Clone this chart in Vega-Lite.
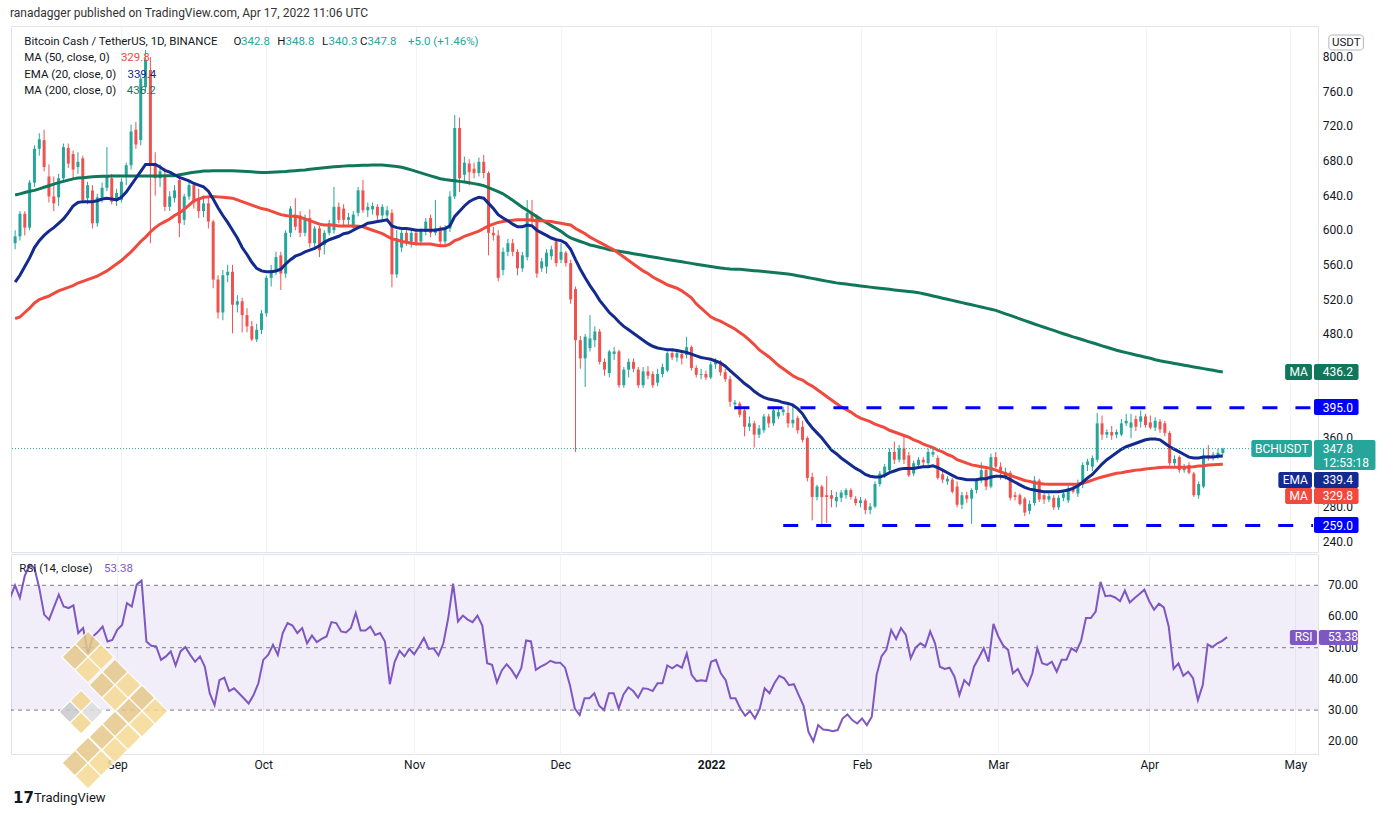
{
  "$schema": "https://vega.github.io/schema/vega-lite/v6.json",
  "background": "white",
  "padding": {"left": 10, "top": 7, "right": 0, "bottom": 0},
  "title": {
    "text": "ranadagger published on TradingView.com, Apr 17, 2022 11:06 UTC",
    "anchor": "start",
    "baseline": "top",
    "fontSize": 12,
    "fontWeight": "normal",
    "font": "Roboto",
    "color": "#333333",
    "offset": 5.5
  },
  "config": {
    "font": "Roboto",
    "view": {"stroke": "#e0e3eb", "strokeWidth": 1},
    "concat": {"spacing": 0},
    "axis": {
      "domain": false,
      "ticks": false,
      "tickSize": 0,
      "labelFont": "Roboto",
      "labelFontSize": 12,
      "labelColor": "#131722",
      "gridColor": "#f0f3fa",
      "gridWidth": 1
    },
    "text": {"font": "Roboto", "fontSize": 12, "align": "left", "baseline": "middle"},
    "point": {"shape": "diamond", "filled": true, "stroke": "white", "strokeWidth": 1.2, "opacity": 0.85}
  },
  "datasets": {
    "priceTicks": [
      {"v": 240}, {"v": 280}, {"v": 360}, {"v": 480}, {"v": 520}, {"v": 560}, {"v": 600},
      {"v": 640}, {"v": 680}, {"v": 720}, {"v": 760}, {"v": 800}
    ],
    "rsiTicks": [{"v": 20}, {"v": 30}, {"v": 40}, {"v": 50}, {"v": 60}, {"v": 70}],
    "bars": [
      {"date":"2021-08-10","open":585,"high":600,"low":578,"close":593,"ema20":540,"ma50":498,"ma200":640.6,"rsi":66},
      {"date":"2021-08-11","open":593,"high":622,"low":588,"close":619,"ema20":548,"ma50":500,"ma200":642,"rsi":70},
      {"date":"2021-08-12","open":619,"high":622,"low":594,"close":603,"ema20":558,"ma50":505,"ma200":643.5,"rsi":66},
      {"date":"2021-08-13","open":603,"high":658,"low":600,"close":655,"ema20":568,"ma50":510,"ma200":645,"rsi":73},
      {"date":"2021-08-14","open":655,"high":698,"low":650,"close":694,"ema20":580,"ma50":516,"ma200":646,"rsi":76.5},
      {"date":"2021-08-15","open":694,"high":712,"low":686,"close":705,"ema20":588,"ma50":520,"ma200":647.7,"rsi":75.5},
      {"date":"2021-08-16","open":704,"high":716,"low":668,"close":673,"ema20":594,"ma50":522,"ma200":649.6,"rsi":69},
      {"date":"2021-08-17","open":662,"high":676,"low":632,"close":639,"ema20":599,"ma50":524,"ma200":651.4,"rsi":60.6},
      {"date":"2021-08-18","open":639,"high":662,"low":622,"close":631,"ema20":603,"ma50":527,"ma200":653.3,"rsi":59},
      {"date":"2021-08-19","open":638,"high":665,"low":628,"close":660,"ema20":608,"ma50":530,"ma200":655,"rsi":63},
      {"date":"2021-08-20","open":660,"high":700,"low":655,"close":696,"ema20":613,"ma50":532,"ma200":656.4,"rsi":67},
      {"date":"2021-08-21","open":695,"high":700,"low":672,"close":677,"ema20":620,"ma50":534,"ma200":657.8,"rsi":63.2},
      {"date":"2021-08-22","open":688,"high":692,"low":660,"close":670,"ema20":628,"ma50":536,"ma200":659.3,"rsi":62.7},
      {"date":"2021-08-23","open":673,"high":690,"low":665,"close":679,"ema20":632,"ma50":539,"ma200":660.2,"rsi":63.6},
      {"date":"2021-08-24","open":683,"high":686,"low":631,"close":635,"ema20":633,"ma50":541,"ma200":660.7,"rsi":54.7},
      {"date":"2021-08-25","open":637,"high":656,"low":630,"close":652,"ema20":633,"ma50":543,"ma200":661.2,"rsi":56.3},
      {"date":"2021-08-26","open":646,"high":652,"low":602,"close":608,"ema20":633,"ma50":545,"ma200":661.7,"rsi":48.2},
      {"date":"2021-08-27","open":608,"high":642,"low":604,"close":638,"ema20":634,"ma50":547,"ma200":662.1,"rsi":53.6},
      {"date":"2021-08-28","open":638,"high":655,"low":632,"close":649,"ema20":636,"ma50":550,"ma200":662.2,"rsi":55},
      {"date":"2021-08-29","open":649,"high":696,"low":645,"close":662,"ema20":637,"ma50":553,"ma200":662.4,"rsi":56.8},
      {"date":"2021-08-30","open":660,"high":665,"low":630,"close":633,"ema20":636,"ma50":557,"ma200":662.5,"rsi":52},
      {"date":"2021-08-31","open":635,"high":648,"low":628,"close":643,"ema20":635,"ma50":561,"ma200":662.6,"rsi":52.5},
      {"date":"2021-09-01","open":635,"high":660,"low":632,"close":656,"ema20":638,"ma50":565,"ma200":662.6,"rsi":55.7},
      {"date":"2021-09-02","open":662,"high":678,"low":652,"close":675,"ema20":644,"ma50":570,"ma200":662.6,"rsi":57.3},
      {"date":"2021-09-03","open":675,"high":722,"low":670,"close":714,"ema20":652,"ma50":575,"ma200":662.6,"rsi":64.3},
      {"date":"2021-09-04","open":716,"high":725,"low":694,"close":699,"ema20":660,"ma50":581,"ma200":662.6,"rsi":63.2},
      {"date":"2021-09-05","open":704,"high":780,"low":698,"close":775,"ema20":668,"ma50":587,"ma200":662.6,"rsi":70.2},
      {"date":"2021-09-06","open":765,"high":808,"low":760,"close":797,"ema20":676,"ma50":592,"ma200":662.6,"rsi":71.5},
      {"date":"2021-09-07","open":785,"high":800,"low":585,"close":677,"ema20":676,"ma50":598,"ma200":662.6,"rsi":52},
      {"date":"2021-09-08","open":677,"high":690,"low":640,"close":660,"ema20":676,"ma50":603,"ma200":662.6,"rsi":50.6},
      {"date":"2021-09-09","open":660,"high":676,"low":650,"close":668,"ema20":673,"ma50":607,"ma200":662.7,"rsi":50.4},
      {"date":"2021-09-10","open":662,"high":672,"low":622,"close":627,"ema20":669,"ma50":610,"ma200":662.8,"rsi":46.1},
      {"date":"2021-09-11","open":627,"high":645,"low":622,"close":639,"ema20":667,"ma50":613,"ma200":662.9,"rsi":47.2},
      {"date":"2021-09-12","open":637,"high":652,"low":632,"close":646,"ema20":664,"ma50":617,"ma200":663,"rsi":48.8},
      {"date":"2021-09-13","open":658,"high":660,"low":592,"close":608,"ema20":661,"ma50":620,"ma200":664,"rsi":44.3},
      {"date":"2021-09-14","open":612,"high":642,"low":606,"close":639,"ema20":659,"ma50":624,"ma200":665,"rsi":48.8},
      {"date":"2021-09-15","open":639,"high":656,"low":635,"close":652,"ema20":657,"ma50":629,"ma200":666,"rsi":50.2},
      {"date":"2021-09-16","open":652,"high":655,"low":625,"close":632,"ema20":654,"ma50":634,"ma200":667,"rsi":47.7},
      {"date":"2021-09-17","open":637,"high":648,"low":614,"close":622,"ema20":652,"ma50":636,"ma200":667.6,"rsi":45.5},
      {"date":"2021-09-18","open":622,"high":640,"low":615,"close":631,"ema20":650,"ma50":638,"ma200":668.3,"rsi":47.2},
      {"date":"2021-09-19","open":631,"high":640,"low":602,"close":610,"ema20":645,"ma50":638.5,"ma200":668.5,"rsi":43.9},
      {"date":"2021-09-20","open":610,"high":612,"low":533,"close":543,"ema20":636,"ma50":639,"ma200":668.6,"rsi":35.4},
      {"date":"2021-09-21","open":543,"high":548,"low":498,"close":505,"ema20":626,"ma50":638.5,"ma200":668.6,"rsi":31.6},
      {"date":"2021-09-22","open":505,"high":554,"low":496,"close":548,"ema20":617,"ma50":638,"ma200":668.7,"rsi":39.6},
      {"date":"2021-09-23","open":548,"high":560,"low":540,"close":552,"ema20":609,"ma50":637.5,"ma200":668.7,"rsi":40.4},
      {"date":"2021-09-24","open":552,"high":560,"low":481,"close":514,"ema20":600,"ma50":637,"ma200":668.7,"rsi":36.1},
      {"date":"2021-09-25","open":514,"high":525,"low":505,"close":518,"ema20":591,"ma50":635,"ma200":668.5,"rsi":37},
      {"date":"2021-09-26","open":518,"high":522,"low":482,"close":502,"ema20":580,"ma50":633,"ma200":668.1,"rsi":35.4},
      {"date":"2021-09-27","open":502,"high":510,"low":482,"close":489,"ema20":572,"ma50":631,"ma200":667.8,"rsi":33.8},
      {"date":"2021-09-28","open":489,"high":495,"low":472,"close":474,"ema20":563,"ma50":629,"ma200":667.4,"rsi":32.1},
      {"date":"2021-09-29","open":474,"high":492,"low":471,"close":485,"ema20":556,"ma50":627,"ma200":667,"rsi":34.8},
      {"date":"2021-09-30","open":485,"high":508,"low":480,"close":504,"ema20":553,"ma50":625,"ma200":666.6,"rsi":38.6},
      {"date":"2021-10-01","open":504,"high":548,"low":500,"close":545,"ema20":552,"ma50":624,"ma200":666.6,"rsi":46.1},
      {"date":"2021-10-02","open":545,"high":560,"low":535,"close":554,"ema20":552,"ma50":622,"ma200":666.8,"rsi":47.7},
      {"date":"2021-10-03","open":554,"high":575,"low":548,"close":569,"ema20":553,"ma50":620,"ma200":667.1,"rsi":50.9},
      {"date":"2021-10-04","open":571,"high":575,"low":531,"close":550,"ema20":555,"ma50":618,"ma200":667.5,"rsi":47.7},
      {"date":"2021-10-05","open":550,"high":600,"low":545,"close":597,"ema20":561,"ma50":617,"ma200":667.8,"rsi":54.7},
      {"date":"2021-10-06","open":597,"high":628,"low":592,"close":625,"ema20":566,"ma50":616,"ma200":668.3,"rsi":57.9},
      {"date":"2021-10-07","open":618,"high":637,"low":600,"close":604,"ema20":570,"ma50":616,"ma200":668.7,"rsi":57.1},
      {"date":"2021-10-08","open":617,"high":622,"low":592,"close":597,"ema20":572,"ma50":615,"ma200":669.2,"rsi":54.7},
      {"date":"2021-10-09","open":597,"high":618,"low":593,"close":614,"ema20":575,"ma50":613,"ma200":669.6,"rsi":56.3},
      {"date":"2021-10-10","open":614,"high":624,"low":580,"close":585,"ema20":577,"ma50":611,"ma200":670.3,"rsi":51.4},
      {"date":"2021-10-11","open":585,"high":605,"low":580,"close":602,"ema20":579,"ma50":609,"ma200":671,"rsi":53.9},
      {"date":"2021-10-12","open":602,"high":605,"low":569,"close":577,"ema20":582,"ma50":607,"ma200":671.6,"rsi":51.8},
      {"date":"2021-10-13","open":583,"high":600,"low":572,"close":597,"ema20":586,"ma50":606,"ma200":672.2,"rsi":52.8},
      {"date":"2021-10-14","open":597,"high":612,"low":594,"close":608,"ema20":589,"ma50":606,"ma200":672.7,"rsi":53.6},
      {"date":"2021-10-15","open":600,"high":650,"low":596,"close":627,"ema20":591,"ma50":606,"ma200":673.2,"rsi":58.2},
      {"date":"2021-10-16","open":627,"high":632,"low":608,"close":612,"ema20":593,"ma50":605,"ma200":673.6,"rsi":57.9},
      {"date":"2021-10-17","open":625,"high":630,"low":605,"close":612,"ema20":596,"ma50":605,"ma200":674,"rsi":55.2},
      {"date":"2021-10-18","open":612,"high":620,"low":605,"close":615,"ema20":597,"ma50":605,"ma200":674.3,"rsi":54.9},
      {"date":"2021-10-19","open":603,"high":622,"low":600,"close":618,"ema20":600,"ma50":605,"ma200":674.5,"rsi":56.3},
      {"date":"2021-10-20","open":620,"high":650,"low":616,"close":646,"ema20":603,"ma50":604.5,"ma200":674.8,"rsi":61.1},
      {"date":"2021-10-21","open":646,"high":658,"low":620,"close":623,"ema20":605,"ma50":604,"ma200":675,"rsi":55.5},
      {"date":"2021-10-22","open":623,"high":632,"low":615,"close":627,"ema20":608,"ma50":602,"ma200":675.1,"rsi":55.5},
      {"date":"2021-10-23","open":624,"high":632,"low":618,"close":628,"ema20":609,"ma50":600,"ma200":675.2,"rsi":56.8},
      {"date":"2021-10-24","open":627,"high":630,"low":612,"close":617,"ema20":610,"ma50":598,"ma200":675.3,"rsi":54.1},
      {"date":"2021-10-25","open":617,"high":630,"low":612,"close":627,"ema20":611,"ma50":596,"ma200":675.3,"rsi":54.7},
      {"date":"2021-10-26","open":617,"high":628,"low":610,"close":623,"ema20":612,"ma50":593,"ma200":674.8,"rsi":52},
      {"date":"2021-10-27","open":620,"high":624,"low":534,"close":549,"ema20":605,"ma50":590,"ma200":674.2,"rsi":38.3},
      {"date":"2021-10-28","open":549,"high":600,"low":545,"close":590,"ema20":603,"ma50":589,"ma200":673.5,"rsi":45.5},
      {"date":"2021-10-29","open":580,"high":602,"low":575,"close":597,"ema20":602,"ma50":587,"ma200":672.7,"rsi":49},
      {"date":"2021-10-30","open":597,"high":600,"low":582,"close":585,"ema20":602,"ma50":586,"ma200":671.3,"rsi":47.2},
      {"date":"2021-10-31","open":585,"high":600,"low":580,"close":597,"ema20":601,"ma50":585,"ma200":669.7,"rsi":49.6},
      {"date":"2021-11-01","open":597,"high":602,"low":582,"close":586,"ema20":600,"ma50":584.5,"ma200":668,"rsi":47.9},
      {"date":"2021-11-02","open":587,"high":602,"low":583,"close":599,"ema20":600,"ma50":584,"ma200":666.2,"rsi":50.4},
      {"date":"2021-11-03","open":598,"high":614,"low":594,"close":610,"ema20":600,"ma50":584,"ma200":664.5,"rsi":53.1},
      {"date":"2021-11-04","open":614,"high":618,"low":592,"close":597,"ema20":600,"ma50":584,"ma200":662.8,"rsi":49.6},
      {"date":"2021-11-05","open":597,"high":635,"low":594,"close":602,"ema20":600,"ma50":583,"ma200":661.1,"rsi":49.8},
      {"date":"2021-11-06","open":600,"high":605,"low":582,"close":587,"ema20":601,"ma50":582,"ma200":659.4,"rsi":47.5},
      {"date":"2021-11-07","open":587,"high":606,"low":584,"close":602,"ema20":602,"ma50":582,"ma200":658.5,"rsi":51.4},
      {"date":"2021-11-08","open":602,"high":645,"low":598,"close":639,"ema20":605,"ma50":584,"ma200":657.8,"rsi":59.5},
      {"date":"2021-11-09","open":639,"high":733,"low":636,"close":718,"ema20":616,"ma50":588,"ma200":657.1,"rsi":70.5},
      {"date":"2021-11-10","open":718,"high":730,"low":644,"close":660,"ema20":622,"ma50":590,"ma200":656.4,"rsi":58.4},
      {"date":"2021-11-11","open":664,"high":685,"low":655,"close":678,"ema20":628,"ma50":593,"ma200":655.6,"rsi":60.3},
      {"date":"2021-11-12","open":677,"high":682,"low":652,"close":667,"ema20":633,"ma50":595,"ma200":654.7,"rsi":59},
      {"date":"2021-11-13","open":671,"high":678,"low":660,"close":666,"ema20":636,"ma50":597,"ma200":653.8,"rsi":58.2},
      {"date":"2021-11-14","open":666,"high":684,"low":662,"close":679,"ema20":638,"ma50":599,"ma200":652.8,"rsi":60.3},
      {"date":"2021-11-15","open":679,"high":687,"low":660,"close":666,"ema20":637,"ma50":602,"ma200":651.5,"rsi":57.1},
      {"date":"2021-11-16","open":666,"high":668,"low":571,"close":597,"ema20":631,"ma50":605,"ma200":649.2,"rsi":45},
      {"date":"2021-11-17","open":597,"high":604,"low":588,"close":594,"ema20":625,"ma50":607,"ma200":646.9,"rsi":44.5},
      {"date":"2021-11-18","open":594,"high":600,"low":541,"close":545,"ema20":618,"ma50":609,"ma200":644.5,"rsi":38.9},
      {"date":"2021-11-19","open":554,"high":580,"low":548,"close":575,"ema20":614,"ma50":610,"ma200":642,"rsi":42.7},
      {"date":"2021-11-20","open":575,"high":590,"low":570,"close":585,"ema20":611,"ma50":611,"ma200":638.3,"rsi":44.7},
      {"date":"2021-11-21","open":585,"high":590,"low":570,"close":575,"ema20":607,"ma50":611.5,"ma200":634.5,"rsi":42.9},
      {"date":"2021-11-22","open":575,"high":578,"low":548,"close":556,"ema20":604,"ma50":612,"ma200":630.6,"rsi":40.4},
      {"date":"2021-11-23","open":556,"high":575,"low":552,"close":571,"ema20":604,"ma50":612,"ma200":626.6,"rsi":43.4},
      {"date":"2021-11-24","open":569,"high":635,"low":565,"close":620,"ema20":606,"ma50":612,"ma200":623,"rsi":52.3},
      {"date":"2021-11-25","open":620,"high":635,"low":605,"close":610,"ema20":605,"ma50":611.5,"ma200":619.3,"rsi":52},
      {"date":"2021-11-26","open":615,"high":618,"low":545,"close":550,"ema20":600,"ma50":611,"ma200":615.7,"rsi":42.9},
      {"date":"2021-11-27","open":556,"high":568,"low":552,"close":564,"ema20":597,"ma50":611,"ma200":612,"rsi":43.9},
      {"date":"2021-11-28","open":558,"high":578,"low":550,"close":574,"ema20":594,"ma50":610.5,"ma200":608.6,"rsi":44.7},
      {"date":"2021-11-29","open":570,"high":582,"low":566,"close":578,"ema20":591,"ma50":610,"ma200":605.3,"rsi":45.8},
      {"date":"2021-11-30","open":587,"high":590,"low":558,"close":562,"ema20":589,"ma50":609,"ma200":602,"rsi":45.2},
      {"date":"2021-12-01","open":566,"high":585,"low":562,"close":575,"ema20":588,"ma50":608,"ma200":598.7,"rsi":45.2},
      {"date":"2021-12-02","open":574,"high":576,"low":558,"close":562,"ema20":585,"ma50":607,"ma200":594.5,"rsi":43.6},
      {"date":"2021-12-03","open":562,"high":566,"low":515,"close":520,"ema20":578,"ma50":606,"ma200":591,"rsi":38},
      {"date":"2021-12-04","open":532,"high":535,"low":344,"close":473,"ema20":566,"ma50":602,"ma200":589,"rsi":30.5},
      {"date":"2021-12-05","open":473,"high":478,"low":440,"close":452,"ema20":555,"ma50":599,"ma200":587,"rsi":28.4},
      {"date":"2021-12-06","open":452,"high":480,"low":419,"close":477,"ema20":545,"ma50":596,"ma200":585,"rsi":33.8},
      {"date":"2021-12-07","open":464,"high":502,"low":460,"close":475,"ema20":536,"ma50":592,"ma200":583,"rsi":33.8},
      {"date":"2021-12-08","open":473,"high":489,"low":465,"close":483,"ema20":528,"ma50":589,"ma200":581.8,"rsi":35.4},
      {"date":"2021-12-09","open":483,"high":486,"low":445,"close":448,"ema20":519,"ma50":586,"ma200":580.4,"rsi":31.4},
      {"date":"2021-12-10","open":448,"high":452,"low":432,"close":439,"ema20":512,"ma50":583,"ma200":579,"rsi":30},
      {"date":"2021-12-11","open":435,"high":462,"low":430,"close":460,"ema20":505,"ma50":580,"ma200":577.5,"rsi":35.4},
      {"date":"2021-12-12","open":457,"high":465,"low":450,"close":460,"ema20":500,"ma50":577,"ma200":576.6,"rsi":35.4},
      {"date":"2021-12-13","open":460,"high":462,"low":418,"close":421,"ema20":494,"ma50":573,"ma200":575.7,"rsi":30.5},
      {"date":"2021-12-14","open":421,"high":442,"low":418,"close":439,"ema20":489,"ma50":569,"ma200":574.8,"rsi":35},
      {"date":"2021-12-15","open":439,"high":452,"low":430,"close":448,"ema20":485,"ma50":565,"ma200":573.9,"rsi":37.3},
      {"date":"2021-12-16","open":448,"high":452,"low":436,"close":440,"ema20":481,"ma50":561,"ma200":572.9,"rsi":36.1},
      {"date":"2021-12-17","open":439,"high":442,"low":418,"close":421,"ema20":477,"ma50":557,"ma200":572,"rsi":34},
      {"date":"2021-12-18","open":421,"high":442,"low":418,"close":437,"ema20":473,"ma50":553,"ma200":571,"rsi":37},
      {"date":"2021-12-19","open":437,"high":443,"low":428,"close":432,"ema20":469,"ma50":550,"ma200":570,"rsi":36.8},
      {"date":"2021-12-20","open":434,"high":437,"low":418,"close":421,"ema20":466,"ma50":546,"ma200":569,"rsi":36.1},
      {"date":"2021-12-21","open":424,"high":440,"low":420,"close":434,"ema20":464,"ma50":543,"ma200":568.1,"rsi":38.6},
      {"date":"2021-12-22","open":434,"high":446,"low":430,"close":442,"ema20":463,"ma50":540,"ma200":567.2,"rsi":38.6},
      {"date":"2021-12-23","open":438,"high":460,"low":436,"close":458,"ema20":462,"ma50":537,"ma200":566.3,"rsi":44.3},
      {"date":"2021-12-24","open":458,"high":462,"low":450,"close":453,"ema20":462,"ma50":535,"ma200":565.3,"rsi":43.4},
      {"date":"2021-12-25","open":453,"high":462,"low":448,"close":458,"ema20":461,"ma50":533,"ma200":564.4,"rsi":44.5},
      {"date":"2021-12-26","open":457,"high":460,"low":445,"close":452,"ema20":460,"ma50":530,"ma200":563.5,"rsi":43.6},
      {"date":"2021-12-27","open":456,"high":477,"low":452,"close":465,"ema20":459,"ma50":526,"ma200":562.6,"rsi":48.2},
      {"date":"2021-12-28","open":465,"high":467,"low":438,"close":441,"ema20":457,"ma50":522,"ma200":561.7,"rsi":41.3},
      {"date":"2021-12-29","open":441,"high":444,"low":430,"close":433,"ema20":455,"ma50":515,"ma200":560.8,"rsi":39.3},
      {"date":"2021-12-30","open":433,"high":440,"low":428,"close":434,"ema20":453,"ma50":510,"ma200":559.8,"rsi":39.6},
      {"date":"2021-12-31","open":434,"high":438,"low":427,"close":430,"ema20":452,"ma50":505,"ma200":558.9,"rsi":39.3},
      {"date":"2022-01-01","open":430,"high":448,"low":428,"close":445,"ema20":451,"ma50":500,"ma200":558,"rsi":45.5},
      {"date":"2022-01-02","open":445,"high":452,"low":440,"close":448,"ema20":449,"ma50":497,"ma200":557.2,"rsi":46.1},
      {"date":"2022-01-03","open":448,"high":450,"low":432,"close":436,"ema20":447,"ma50":495,"ma200":556.5,"rsi":41.8},
      {"date":"2022-01-04","open":436,"high":440,"low":425,"close":428,"ema20":443,"ma50":492,"ma200":555.8,"rsi":39.6},
      {"date":"2022-01-05","open":428,"high":432,"low":396,"close":402,"ema20":438,"ma50":489,"ma200":555.3,"rsi":33.8},
      {"date":"2022-01-06","open":399,"high":404,"low":393,"close":401,"ema20":433,"ma50":486,"ma200":555,"rsi":33.8},
      {"date":"2022-01-07","open":400,"high":402,"low":384,"close":387,"ema20":428,"ma50":482,"ma200":554.9,"rsi":30.5},
      {"date":"2022-01-08","open":392,"high":395,"low":362,"close":373,"ema20":423,"ma50":478,"ma200":554.4,"rsi":28.2},
      {"date":"2022-01-09","open":373,"high":385,"low":368,"close":377,"ema20":419,"ma50":473,"ma200":553.9,"rsi":29.7},
      {"date":"2022-01-10","open":377,"high":380,"low":349,"close":364,"ema20":414,"ma50":468,"ma200":553.3,"rsi":27.3},
      {"date":"2022-01-11","open":364,"high":375,"low":360,"close":371,"ema20":410,"ma50":462,"ma200":552.8,"rsi":30.5},
      {"date":"2022-01-12","open":369,"high":388,"low":366,"close":385,"ema20":407,"ma50":458,"ma200":552.3,"rsi":37},
      {"date":"2022-01-13","open":385,"high":388,"low":372,"close":377,"ema20":405,"ma50":454,"ma200":551.7,"rsi":35.4},
      {"date":"2022-01-14","open":377,"high":395,"low":374,"close":392,"ema20":404,"ma50":449,"ma200":551.2,"rsi":38.6},
      {"date":"2022-01-15","open":385,"high":394,"low":382,"close":390,"ema20":403,"ma50":444,"ma200":550.6,"rsi":41},
      {"date":"2022-01-16","open":390,"high":396,"low":386,"close":393,"ema20":401,"ma50":440,"ma200":550,"rsi":40.2},
      {"date":"2022-01-17","open":389,"high":398,"low":372,"close":377,"ema20":400,"ma50":436,"ma200":549.5,"rsi":38},
      {"date":"2022-01-18","open":377,"high":400,"low":372,"close":381,"ema20":398,"ma50":432,"ma200":548.6,"rsi":38.3},
      {"date":"2022-01-19","open":383,"high":386,"low":365,"close":369,"ema20":394,"ma50":429,"ma200":547.5,"rsi":34.8},
      {"date":"2022-01-20","open":373,"high":380,"low":355,"close":358,"ema20":388,"ma50":427,"ma200":546.5,"rsi":31.4},
      {"date":"2022-01-21","open":360,"high":362,"low":310,"close":314,"ema20":379,"ma50":423,"ma200":545.4,"rsi":23},
      {"date":"2022-01-22","open":315,"high":320,"low":265,"close":292,"ema20":372,"ma50":420,"ma200":544.4,"rsi":20},
      {"date":"2022-01-23","open":292,"high":306,"low":288,"close":304,"ema20":366,"ma50":416,"ma200":543.3,"rsi":25.2},
      {"date":"2022-01-24","open":304,"high":306,"low":259,"close":292,"ema20":360,"ma50":412,"ma200":542.3,"rsi":23.8},
      {"date":"2022-01-25","open":294,"high":316,"low":262,"close":292,"ema20":353,"ma50":408,"ma200":541.2,"rsi":23.6},
      {"date":"2022-01-26","open":294,"high":300,"low":280,"close":290,"ema20":346,"ma50":404,"ma200":540.2,"rsi":23.2},
      {"date":"2022-01-27","open":287,"high":298,"low":280,"close":292,"ema20":342,"ma50":400,"ma200":539.2,"rsi":23.6},
      {"date":"2022-01-28","open":291,"high":300,"low":286,"close":297,"ema20":337,"ma50":396,"ma200":538.5,"rsi":27.3},
      {"date":"2022-01-29","open":294,"high":302,"low":290,"close":300,"ema20":333,"ma50":393,"ma200":537.8,"rsi":28.6},
      {"date":"2022-01-30","open":300,"high":302,"low":289,"close":292,"ema20":329,"ma50":390,"ma200":537.1,"rsi":26.8},
      {"date":"2022-01-31","open":290,"high":293,"low":282,"close":285,"ema20":325,"ma50":386,"ma200":536.4,"rsi":25.7},
      {"date":"2022-02-01","open":285,"high":292,"low":280,"close":288,"ema20":322,"ma50":383,"ma200":535.7,"rsi":27.3},
      {"date":"2022-02-02","open":288,"high":290,"low":272,"close":277,"ema20":318,"ma50":381,"ma200":535,"rsi":25.2},
      {"date":"2022-02-03","open":277,"high":285,"low":272,"close":281,"ema20":316,"ma50":379,"ma200":534.3,"rsi":27.9},
      {"date":"2022-02-04","open":281,"high":310,"low":279,"close":307,"ema20":315,"ma50":376,"ma200":533.6,"rsi":41.3},
      {"date":"2022-02-05","open":307,"high":322,"low":304,"close":319,"ema20":315,"ma50":374,"ma200":533,"rsi":47.2},
      {"date":"2022-02-06","open":317,"high":330,"low":314,"close":327,"ema20":317,"ma50":372,"ma200":532.4,"rsi":49.3},
      {"date":"2022-02-07","open":323,"high":348,"low":320,"close":344,"ema20":320,"ma50":369,"ma200":531.8,"rsi":55.7},
      {"date":"2022-02-08","open":344,"high":356,"low":330,"close":335,"ema20":322,"ma50":367,"ma200":531.1,"rsi":52.8},
      {"date":"2022-02-09","open":335,"high":352,"low":332,"close":348,"ema20":324,"ma50":365,"ma200":530.5,"rsi":56.3},
      {"date":"2022-02-10","open":348,"high":364,"low":330,"close":335,"ema20":325,"ma50":363,"ma200":529.9,"rsi":54.1},
      {"date":"2022-02-11","open":340,"high":344,"low":315,"close":317,"ema20":325,"ma50":361,"ma200":529.3,"rsi":46.6},
      {"date":"2022-02-12","open":319,"high":334,"low":316,"close":331,"ema20":325,"ma50":358,"ma200":528.6,"rsi":50},
      {"date":"2022-02-13","open":329,"high":338,"low":326,"close":335,"ema20":326,"ma50":356,"ma200":527.9,"rsi":51.4},
      {"date":"2022-02-14","open":335,"high":338,"low":328,"close":332,"ema20":327,"ma50":353,"ma200":526.6,"rsi":50.4},
      {"date":"2022-02-15","open":331,"high":348,"low":328,"close":344,"ema20":327,"ma50":351,"ma200":525.4,"rsi":55.2},
      {"date":"2022-02-16","open":341,"high":350,"low":338,"close":344,"ema20":328,"ma50":349,"ma200":524.1,"rsi":51.4},
      {"date":"2022-02-17","open":337,"high":340,"low":312,"close":314,"ema20":326,"ma50":346,"ma200":522.8,"rsi":43.9},
      {"date":"2022-02-18","open":318,"high":322,"low":308,"close":312,"ema20":323,"ma50":344,"ma200":521.5,"rsi":43.2},
      {"date":"2022-02-19","open":310,"high":316,"low":306,"close":313,"ema20":320,"ma50":341,"ma200":520.3,"rsi":43.6},
      {"date":"2022-02-20","open":312,"high":314,"low":296,"close":298,"ema20":317,"ma50":339,"ma200":519,"rsi":40.7},
      {"date":"2022-02-21","open":304,"high":310,"low":280,"close":283,"ema20":314,"ma50":335,"ma200":517.7,"rsi":34.8},
      {"date":"2022-02-22","open":283,"high":298,"low":278,"close":294,"ema20":313,"ma50":333,"ma200":516.4,"rsi":39.6},
      {"date":"2022-02-23","open":294,"high":298,"low":285,"close":290,"ema20":312,"ma50":331,"ma200":515.1,"rsi":38},
      {"date":"2022-02-24","open":290,"high":302,"low":261,"close":300,"ema20":312,"ma50":329,"ma200":513.9,"rsi":43.9},
      {"date":"2022-02-25","open":300,"high":314,"low":296,"close":312,"ema20":312,"ma50":328,"ma200":512.6,"rsi":46.8},
      {"date":"2022-02-26","open":311,"high":332,"low":308,"close":323,"ema20":313,"ma50":327,"ma200":511.3,"rsi":49.8},
      {"date":"2022-02-27","open":323,"high":326,"low":300,"close":304,"ema20":313,"ma50":326,"ma200":510,"rsi":45.5},
      {"date":"2022-02-28","open":304,"high":342,"low":302,"close":338,"ema20":315,"ma50":325,"ma200":508.7,"rsi":57.6},
      {"date":"2022-03-01","open":338,"high":344,"low":325,"close":327,"ema20":316,"ma50":323,"ma200":507.4,"rsi":53.6},
      {"date":"2022-03-02","open":327,"high":332,"low":312,"close":321,"ema20":316,"ma50":321,"ma200":505.5,"rsi":50.7},
      {"date":"2022-03-03","open":316,"high":326,"low":312,"close":321,"ema20":315,"ma50":319,"ma200":503.5,"rsi":49.3},
      {"date":"2022-03-04","open":320,"high":322,"low":288,"close":291,"ema20":312,"ma50":317,"ma200":501.6,"rsi":41.8},
      {"date":"2022-03-05","open":294,"high":298,"low":288,"close":292,"ema20":309,"ma50":315,"ma200":499.6,"rsi":43.2},
      {"date":"2022-03-06","open":294,"high":296,"low":282,"close":284,"ema20":306,"ma50":313,"ma200":497.6,"rsi":40},
      {"date":"2022-03-07","open":290,"high":292,"low":270,"close":274,"ema20":303,"ma50":311,"ma200":495.7,"rsi":37.8},
      {"date":"2022-03-08","open":276,"high":288,"low":272,"close":284,"ema20":301,"ma50":310,"ma200":493.7,"rsi":41.8},
      {"date":"2022-03-09","open":285,"high":316,"low":282,"close":311,"ema20":300,"ma50":308.5,"ma200":491.7,"rsi":49.8},
      {"date":"2022-03-10","open":311,"high":313,"low":286,"close":289,"ema20":299,"ma50":307.5,"ma200":489.9,"rsi":45},
      {"date":"2022-03-11","open":294,"high":296,"low":284,"close":289,"ema20":298,"ma50":307,"ma200":488,"rsi":44.5},
      {"date":"2022-03-12","open":289,"high":296,"low":286,"close":293,"ema20":298,"ma50":306.8,"ma200":486.1,"rsi":45.5},
      {"date":"2022-03-13","open":291,"high":294,"low":277,"close":280,"ema20":298,"ma50":306.6,"ma200":484.3,"rsi":42.3},
      {"date":"2022-03-14","open":280,"high":294,"low":277,"close":291,"ema20":298,"ma50":306.6,"ma200":482.4,"rsi":46.1},
      {"date":"2022-03-15","open":291,"high":298,"low":287,"close":296,"ema20":299,"ma50":306.6,"ma200":480.5,"rsi":46.1},
      {"date":"2022-03-16","open":288,"high":305,"low":285,"close":302,"ema20":300,"ma50":306.7,"ma200":478.7,"rsi":49.8},
      {"date":"2022-03-17","open":302,"high":305,"low":296,"close":298,"ema20":302,"ma50":306.8,"ma200":476.8,"rsi":48.8},
      {"date":"2022-03-18","open":296,"high":312,"low":292,"close":308,"ema20":305,"ma50":307,"ma200":475.2,"rsi":52.2},
      {"date":"2022-03-19","open":306,"high":332,"low":302,"close":329,"ema20":309,"ma50":308,"ma200":473.5,"rsi":59.5},
      {"date":"2022-03-20","open":329,"high":336,"low":322,"close":333,"ema20":314,"ma50":309.6,"ma200":471.7,"rsi":59.5},
      {"date":"2022-03-21","open":327,"high":340,"low":322,"close":337,"ema20":318,"ma50":311.5,"ma200":470,"rsi":61.6},
      {"date":"2022-03-22","open":335,"high":389,"low":332,"close":377,"ema20":324,"ma50":313.5,"ma200":468.3,"rsi":71.1},
      {"date":"2022-03-23","open":377,"high":386,"low":358,"close":364,"ema20":330,"ma50":315,"ma200":466.5,"rsi":66.5},
      {"date":"2022-03-24","open":364,"high":370,"low":360,"close":367,"ema20":335,"ma50":316.5,"ma200":464.8,"rsi":66.7},
      {"date":"2022-03-25","open":367,"high":374,"low":358,"close":363,"ema20":339,"ma50":318,"ma200":463.1,"rsi":66.1},
      {"date":"2022-03-26","open":364,"high":370,"low":360,"close":367,"ema20":343,"ma50":319.3,"ma200":461.4,"rsi":64.9},
      {"date":"2022-03-27","open":364,"high":382,"low":362,"close":377,"ema20":347,"ma50":320,"ma200":460,"rsi":68.3},
      {"date":"2022-03-28","open":377,"high":388,"low":374,"close":380,"ema20":350,"ma50":321,"ma200":458.7,"rsi":64.5},
      {"date":"2022-03-29","open":372,"high":388,"low":360,"close":378,"ema20":352,"ma50":322,"ma200":457.4,"rsi":65.9},
      {"date":"2022-03-30","open":382,"high":386,"low":368,"close":373,"ema20":354,"ma50":323,"ma200":456,"rsi":67.2},
      {"date":"2022-03-31","open":379,"high":392,"low":372,"close":385,"ema20":356,"ma50":323.5,"ma200":454.7,"rsi":68.6},
      {"date":"2022-04-01","open":385,"high":388,"low":372,"close":375,"ema20":358,"ma50":324.2,"ma200":453.4,"rsi":64.9},
      {"date":"2022-04-02","open":378,"high":386,"low":370,"close":372,"ema20":359,"ma50":325,"ma200":452.1,"rsi":62.2},
      {"date":"2022-04-03","open":372,"high":384,"low":368,"close":380,"ema20":359,"ma50":325.4,"ma200":450.5,"rsi":64.1},
      {"date":"2022-04-04","open":379,"high":382,"low":366,"close":370,"ema20":358,"ma50":326,"ma200":449.2,"rsi":62.9},
      {"date":"2022-04-05","open":377,"high":380,"low":362,"close":366,"ema20":354,"ma50":326.2,"ma200":448.2,"rsi":56.8},
      {"date":"2022-04-06","open":366,"high":368,"low":328,"close":331,"ema20":350,"ma50":326.2,"ma200":447.2,"rsi":43.2},
      {"date":"2022-04-07","open":331,"high":340,"low":328,"close":336,"ema20":347,"ma50":326.2,"ma200":446.2,"rsi":45},
      {"date":"2022-04-08","open":338,"high":340,"low":320,"close":323,"ema20":344,"ma50":326.2,"ma200":445.2,"rsi":41},
      {"date":"2022-04-09","open":323,"high":330,"low":320,"close":327,"ema20":341,"ma50":326.2,"ma200":444.1,"rsi":42.3},
      {"date":"2022-04-10","open":329,"high":332,"low":318,"close":320,"ema20":338,"ma50":326.5,"ma200":443.1,"rsi":40.2},
      {"date":"2022-04-11","open":319,"high":321,"low":292,"close":294,"ema20":337,"ma50":327,"ma200":442.1,"rsi":33.2},
      {"date":"2022-04-12","open":294,"high":310,"low":290,"close":307,"ema20":337,"ma50":327.7,"ma200":441.2,"rsi":38},
      {"date":"2022-04-13","open":304,"high":348,"low":302,"close":340,"ema20":338,"ma50":328,"ma200":440.2,"rsi":51.1},
      {"date":"2022-04-14","open":340,"high":352,"low":334,"close":338,"ema20":338,"ma50":328.9,"ma200":439.2,"rsi":50.2},
      {"date":"2022-04-15","open":338,"high":344,"low":334,"close":341,"ema20":338,"ma50":329.2,"ma200":438.2,"rsi":51.4},
      {"date":"2022-04-16","open":340,"high":348,"low":336,"close":343,"ema20":339,"ma50":329.5,"ma200":437.2,"rsi":52.2},
      {"date":"2022-04-17","open":342.8,"high":348.8,"low":340.3,"close":347.8,"ema20":339.4,"ma50":329.8,"ma200":436.2,"rsi":53.38}
    ]
  },
  "vconcat": [
    {
      "width": 1307,
      "height": 526,
      "layer": [
        {
          "data": {"name": "bars"},
          "encoding": {
            "x": {
              "field": "date", "type": "temporal", "title": null,
              "scale": {"type": "utc", "domain": [
                {"year": 2021, "month": 8, "date": 10, "hours": 4, "minutes": 19, "utc": true},
                {"year": 2022, "month": 5, "date": 5, "hours": 16, "minutes": 5, "utc": true}
              ]},
              "axis": {
                "labels": false, "grid": true, "domain": false, "ticks": false,
                "minExtent": 0, "maxExtent": 0, "offset": 0,
                "values": [
                  {"year": 2021, "month": 9, "date": 1, "utc": true},
                  {"year": 2021, "month": 10, "date": 1, "utc": true},
                  {"year": 2021, "month": 11, "date": 1, "utc": true},
                  {"year": 2021, "month": 12, "date": 1, "utc": true},
                  {"year": 2022, "month": 1, "date": 1, "utc": true},
                  {"year": 2022, "month": 2, "date": 1, "utc": true},
                  {"year": 2022, "month": 3, "date": 1, "utc": true},
                  {"year": 2022, "month": 4, "date": 1, "utc": true},
                  {"year": 2022, "month": 5, "date": 1, "utc": true}
                ]
              }
            }
          },
          "layer": [
            {
              "mark": {"type": "rule", "strokeWidth": 1, "clip": true},
              "encoding": {
                "y": {
                  "field": "low", "type": "quantitative", "title": null,
                  "scale": {"domain": [228.45, 835.8], "nice": false, "zero": false},
                  "axis": {
                    "orient": "right", "grid": true, "labels": false,
                    "values": [240, 280, 320, 360, 400, 440, 480, 520, 560, 600, 640, 680, 720, 760, 800]
                  }
                },
                "y2": {"field": "high"},
                "color": {"condition": {"test": "datum.close >= datum.open", "value": "#26a69a"}, "value": "#ef5350"}
              }
            },
            {
              "mark": {"type": "bar", "size": 3, "clip": true},
              "encoding": {
                "y": {"field": "open", "type": "quantitative", "title": null},
                "y2": {"field": "close"},
                "color": {"condition": {"test": "datum.close >= datum.open", "value": "#26a69a"}, "value": "#ef5350"}
              }
            },
            {
              "mark": {"type": "line", "color": "#10775b", "strokeWidth": 3, "clip": true},
              "encoding": {"y": {"field": "ma200", "type": "quantitative", "title": null}}
            },
            {
              "mark": {"type": "line", "color": "#f04a3e", "strokeWidth": 3, "clip": true},
              "encoding": {"y": {"field": "ma50", "type": "quantitative", "title": null}}
            },
            {
              "mark": {"type": "line", "color": "#132b8f", "strokeWidth": 3, "clip": true},
              "encoding": {"y": {"field": "ema20", "type": "quantitative", "title": null}}
            }
          ]
        },
        {
          "data": {"name": "priceTicks"},
          "mark": {"type": "text", "color": "#131722"},
          "encoding": {
            "x": {"datum": {"year": 2022, "month": 5, "date": 7, "hours": 16, "minutes": 48, "utc": true}},
            "y": {"field": "v", "type": "quantitative", "title": null, "axis": null},
            "text": {"field": "v", "type": "quantitative", "format": ".1f"}
          }
        },
        {
          "data": {"values": [{}]},
          "layer": [
            {
              "mark": {"type": "rule", "color": "#26a69a", "strokeWidth": 1, "strokeDash": [1, 2]},
              "encoding": {"y": {"datum": 347.8}}
            },
            {
              "mark": {"type": "rule", "color": "#0000ff", "strokeWidth": 3, "strokeDash": [15, 18]},
              "encoding": {
                "x": {"datum": {"year": 2022, "month": 1, "date": 5, "hours": 21, "minutes": 36, "utc": true}},
                "x2": {"datum": {"year": 2022, "month": 5, "date": 5, "hours": 16, "minutes": 5, "utc": true}},
                "y": {"datum": 395}
              }
            },
            {
              "mark": {"type": "rule", "color": "#0000ff", "strokeWidth": 3, "strokeDash": [15, 18]},
              "encoding": {
                "x": {"datum": {"year": 2022, "month": 1, "date": 16, "utc": true}},
                "x2": {"datum": {"year": 2022, "month": 5, "date": 5, "hours": 16, "minutes": 5, "utc": true}},
                "y": {"datum": 259}
              }
            },
            {
              "mark": {"type": "rect", "fill": "white", "stroke": "#b2b5be", "strokeWidth": 1, "cornerRadius": 3},
              "encoding": {
                "x": {"datum": {"year": 2022, "month": 5, "date": 8, "hours": 22, "minutes": 48, "utc": true}},
                "x2": {"datum": {"year": 2022, "month": 5, "date": 16, "hours": 2, "minutes": 24, "utc": true}},
                "y": {"datum": 825.4}, "y2": {"datum": 808.1}
              }
            },
            {
              "mark": {"type": "text", "align": "center", "color": "#131722", "fontSize": 11.5},
              "encoding": {
                "x": {"datum": {"year": 2022, "month": 5, "date": 12, "hours": 13, "minutes": 12, "utc": true}},
                "y": {"datum": 816.7},
                "text": {"value": "USDT"}
              }
            },
            {
              "mark": {"type": "rect", "color": "#10775b", "cornerRadius": 2},
              "encoding": {
                "x": {"datum": {"year": 2022, "month": 4, "date": 29, "hours": 21, "minutes": 36, "utc": true}},
                "x2": {"datum": {"year": 2022, "month": 5, "date": 5, "hours": 11, "utc": true}},
                "y": {"datum": 445.5}, "y2": {"datum": 427.0}
              }
            },
            {
              "mark": {"type": "rect", "color": "#10775b", "cornerRadius": 2},
              "encoding": {
                "x": {"datum": {"year": 2022, "month": 5, "date": 5, "hours": 21, "utc": true}},
                "x2": {"datum": {"year": 2022, "month": 5, "date": 15, "hours": 2, "minutes": 24, "utc": true}},
                "y": {"datum": 445.5}, "y2": {"datum": 427.0}
              }
            },
            {
              "mark": {"type": "text", "align": "center", "color": "white"},
              "encoding": {
                "x": {"datum": {"year": 2022, "month": 5, "date": 2, "hours": 16, "minutes": 48, "utc": true}},
                "y": {"datum": 436.2},
                "text": {"value": "MA"}
              }
            },
            {
              "mark": {"type": "text", "color": "white"},
              "encoding": {
                "x": {"datum": {"year": 2022, "month": 5, "date": 7, "hours": 16, "minutes": 48, "utc": true}},
                "y": {"datum": 436.2},
                "text": {"value": "436.2"}
              }
            },
            {
              "mark": {"type": "rect", "color": "#0000ff", "cornerRadius": 2},
              "encoding": {
                "x": {"datum": {"year": 2022, "month": 5, "date": 5, "hours": 21, "utc": true}},
                "x2": {"datum": {"year": 2022, "month": 5, "date": 15, "hours": 2, "minutes": 24, "utc": true}},
                "y": {"datum": 405.1}, "y2": {"datum": 386.6}
              }
            },
            {
              "mark": {"type": "text", "color": "white"},
              "encoding": {
                "x": {"datum": {"year": 2022, "month": 5, "date": 7, "hours": 16, "minutes": 48, "utc": true}},
                "y": {"datum": 395},
                "text": {"value": "395.0"}
              }
            },
            {
              "mark": {"type": "rect", "color": "#26a69a", "cornerRadius": 2},
              "encoding": {
                "x": {"datum": {"year": 2022, "month": 4, "date": 22, "hours": 21, "minutes": 36, "utc": true}},
                "x2": {"datum": {"year": 2022, "month": 5, "date": 5, "hours": 11, "utc": true}},
                "y": {"datum": 357.8}, "y2": {"datum": 338.1}
              }
            },
            {
              "mark": {"type": "rect", "color": "#26a69a", "cornerRadius": 2},
              "encoding": {
                "x": {"datum": {"year": 2022, "month": 5, "date": 5, "hours": 21, "utc": true}},
                "x2": {"datum": {"year": 2022, "month": 5, "date": 18, "hours": 14, "minutes": 24, "utc": true}},
                "y": {"datum": 357.8}, "y2": {"datum": 323.1}
              }
            },
            {
              "mark": {"type": "text", "align": "center", "color": "white"},
              "encoding": {
                "x": {"datum": {"year": 2022, "month": 4, "date": 29, "hours": 4, "minutes": 48, "utc": true}},
                "y": {"datum": 347.9},
                "text": {"value": "BCHUSDT"}
              }
            },
            {
              "mark": {"type": "text", "color": "white"},
              "encoding": {
                "x": {"datum": {"year": 2022, "month": 5, "date": 7, "hours": 16, "minutes": 48, "utc": true}},
                "y": {"datum": 347.9},
                "text": {"value": "347.8"}
              }
            },
            {
              "mark": {"type": "text", "color": "white"},
              "encoding": {
                "x": {"datum": {"year": 2022, "month": 5, "date": 7, "hours": 16, "minutes": 48, "utc": true}},
                "y": {"datum": 331.2},
                "text": {"value": "12:53:18"}
              }
            },
            {
              "mark": {"type": "rect", "color": "#132b8f", "cornerRadius": 2},
              "encoding": {
                "x": {"datum": {"year": 2022, "month": 4, "date": 28, "hours": 12, "utc": true}},
                "x2": {"datum": {"year": 2022, "month": 5, "date": 5, "hours": 11, "utc": true}},
                "y": {"datum": 320.8}, "y2": {"datum": 302.3}
              }
            },
            {
              "mark": {"type": "rect", "color": "#132b8f", "cornerRadius": 2},
              "encoding": {
                "x": {"datum": {"year": 2022, "month": 5, "date": 5, "hours": 21, "utc": true}},
                "x2": {"datum": {"year": 2022, "month": 5, "date": 15, "hours": 2, "minutes": 24, "utc": true}},
                "y": {"datum": 320.8}, "y2": {"datum": 302.3}
              }
            },
            {
              "mark": {"type": "text", "align": "center", "color": "white"},
              "encoding": {
                "x": {"datum": {"year": 2022, "month": 5, "date": 2, "utc": true}},
                "y": {"datum": 311.6},
                "text": {"value": "EMA"}
              }
            },
            {
              "mark": {"type": "text", "color": "white"},
              "encoding": {
                "x": {"datum": {"year": 2022, "month": 5, "date": 7, "hours": 16, "minutes": 48, "utc": true}},
                "y": {"datum": 311.6},
                "text": {"value": "339.4"}
              }
            },
            {
              "mark": {"type": "rect", "color": "#f04a3e", "cornerRadius": 2},
              "encoding": {
                "x": {"datum": {"year": 2022, "month": 4, "date": 29, "hours": 21, "minutes": 36, "utc": true}},
                "x2": {"datum": {"year": 2022, "month": 5, "date": 5, "hours": 11, "utc": true}},
                "y": {"datum": 302.3}, "y2": {"datum": 283.9}
              }
            },
            {
              "mark": {"type": "rect", "color": "#f04a3e", "cornerRadius": 2},
              "encoding": {
                "x": {"datum": {"year": 2022, "month": 5, "date": 5, "hours": 21, "utc": true}},
                "x2": {"datum": {"year": 2022, "month": 5, "date": 15, "hours": 2, "minutes": 24, "utc": true}},
                "y": {"datum": 302.3}, "y2": {"datum": 283.9}
              }
            },
            {
              "mark": {"type": "text", "align": "center", "color": "white"},
              "encoding": {
                "x": {"datum": {"year": 2022, "month": 5, "date": 2, "hours": 16, "minutes": 48, "utc": true}},
                "y": {"datum": 293.1},
                "text": {"value": "MA"}
              }
            },
            {
              "mark": {"type": "text", "color": "white"},
              "encoding": {
                "x": {"datum": {"year": 2022, "month": 5, "date": 7, "hours": 16, "minutes": 48, "utc": true}},
                "y": {"datum": 293.1},
                "text": {"value": "329.8"}
              }
            },
            {
              "mark": {"type": "rect", "color": "#0000ff", "cornerRadius": 2},
              "encoding": {
                "x": {"datum": {"year": 2022, "month": 5, "date": 5, "hours": 21, "utc": true}},
                "x2": {"datum": {"year": 2022, "month": 5, "date": 15, "hours": 2, "minutes": 24, "utc": true}},
                "y": {"datum": 268.9}, "y2": {"datum": 250.4}
              }
            },
            {
              "mark": {"type": "text", "color": "white"},
              "encoding": {
                "x": {"datum": {"year": 2022, "month": 5, "date": 7, "hours": 16, "minutes": 48, "utc": true}},
                "y": {"datum": 259},
                "text": {"value": "259.0"}
              }
            },
            {
              "mark": {"type": "text", "color": "#131722", "fontSize": 11.5},
              "encoding": {
                "x": {"datum": {"year": 2021, "month": 8, "date": 11, "hours": 21, "minutes": 12, "utc": true}},
                "y": {"datum": 817.3},
                "text": {"value": "Bitcoin Cash / TetherUS, 1D, BINANCE"}
              }
            },
            {
              "mark": {"type": "text", "color": "#131722", "fontSize": 11.5},
              "encoding": {
                "x": {"datum": {"year": 2021, "month": 9, "date": 24, "hours": 5, "minutes": 31, "utc": true}},
                "y": {"datum": 817.3},
                "text": {"value": "O"}
              }
            },
            {
              "mark": {"type": "text", "color": "#26a69a", "fontSize": 11.5},
              "encoding": {
                "x": {"datum": {"year": 2021, "month": 9, "date": 25, "hours": 18, "utc": true}},
                "y": {"datum": 817.3},
                "text": {"value": "342.8"}
              }
            },
            {
              "mark": {"type": "text", "color": "#131722", "fontSize": 11.5},
              "encoding": {
                "x": {"datum": {"year": 2021, "month": 10, "date": 3, "hours": 6, "minutes": 29, "utc": true}},
                "y": {"datum": 817.3},
                "text": {"value": "H"}
              }
            },
            {
              "mark": {"type": "text", "color": "#26a69a", "fontSize": 11.5},
              "encoding": {
                "x": {"datum": {"year": 2021, "month": 10, "date": 4, "hours": 23, "minutes": 46, "utc": true}},
                "y": {"datum": 817.3},
                "text": {"value": "348.8"}
              }
            },
            {
              "mark": {"type": "text", "color": "#131722", "fontSize": 11.5},
              "encoding": {
                "x": {"datum": {"year": 2021, "month": 10, "date": 12, "hours": 12, "minutes": 14, "utc": true}},
                "y": {"datum": 817.3},
                "text": {"value": "L"}
              }
            },
            {
              "mark": {"type": "text", "color": "#26a69a", "fontSize": 11.5},
              "encoding": {
                "x": {"datum": {"year": 2021, "month": 10, "date": 13, "hours": 21, "minutes": 22, "utc": true}},
                "y": {"datum": 817.3},
                "text": {"value": "340.3"}
              }
            },
            {
              "mark": {"type": "text", "color": "#131722", "fontSize": 11.5},
              "encoding": {
                "x": {"datum": {"year": 2021, "month": 10, "date": 20, "hours": 9, "minutes": 36, "utc": true}},
                "y": {"datum": 817.3},
                "text": {"value": "C"}
              }
            },
            {
              "mark": {"type": "text", "color": "#26a69a", "fontSize": 11.5},
              "encoding": {
                "x": {"datum": {"year": 2021, "month": 10, "date": 21, "hours": 23, "minutes": 2, "utc": true}},
                "y": {"datum": 817.3},
                "text": {"value": "347.8"}
              }
            },
            {
              "mark": {"type": "text", "color": "#26a69a", "fontSize": 11.5},
              "encoding": {
                "x": {"datum": {"year": 2021, "month": 10, "date": 30, "hours": 7, "minutes": 41, "utc": true}},
                "y": {"datum": 817.3},
                "text": {"value": "+5.0 (+1.46%)"}
              }
            },
            {
              "mark": {"type": "text", "color": "#131722", "fontSize": 11.5},
              "encoding": {
                "x": {"datum": {"year": 2021, "month": 8, "date": 11, "hours": 21, "minutes": 12, "utc": true}},
                "y": {"datum": 798.3},
                "text": {"value": "MA (50, close, 0)"}
              }
            },
            {
              "mark": {"type": "text", "color": "#f04a3e", "fontSize": 11.5},
              "encoding": {
                "x": {"datum": {"year": 2021, "month": 8, "date": 31, "hours": 21, "minutes": 22, "utc": true}},
                "y": {"datum": 798.3},
                "text": {"value": "329.8"}
              }
            },
            {
              "mark": {"type": "text", "color": "#131722", "fontSize": 11.5},
              "encoding": {
                "x": {"datum": {"year": 2021, "month": 8, "date": 11, "hours": 21, "minutes": 12, "utc": true}},
                "y": {"datum": 779.2},
                "text": {"value": "EMA (20, close, 0)"}
              }
            },
            {
              "mark": {"type": "text", "color": "#132b8f", "fontSize": 11.5},
              "encoding": {
                "x": {"datum": {"year": 2021, "month": 9, "date": 2, "hours": 6, "utc": true}},
                "y": {"datum": 779.2},
                "text": {"value": "339.4"}
              }
            },
            {
              "mark": {"type": "text", "color": "#131722", "fontSize": 11.5},
              "encoding": {
                "x": {"datum": {"year": 2021, "month": 8, "date": 11, "hours": 21, "minutes": 12, "utc": true}},
                "y": {"datum": 760.2},
                "text": {"value": "MA (200, close, 0)"}
              }
            },
            {
              "mark": {"type": "text", "color": "#10775b", "fontSize": 11.5},
              "encoding": {
                "x": {"datum": {"year": 2021, "month": 9, "date": 2, "hours": 2, "minutes": 53, "utc": true}},
                "y": {"datum": 760.2},
                "text": {"value": "436.2"}
              }
            }
          ]
        }
      ]
    },
    {
      "width": 1307,
      "height": 200,
      "layer": [
        {
          "data": {"values": [{}]},
          "layer": [
            {
              "mark": {"type": "rect", "color": "#7e57c2", "opacity": 0.1},
              "encoding": {
                "x": {"datum": {"year": 2021, "month": 8, "date": 10, "hours": 4, "minutes": 19, "utc": true}},
                "x2": {"datum": {"year": 2022, "month": 5, "date": 5, "hours": 16, "minutes": 5, "utc": true}},
                "y": {"datum": 70}, "y2": {"datum": 30}
              }
            }
          ]
        },
        {
          "data": {"name": "bars"},
          "mark": {"type": "line", "color": "#7e57c2", "strokeWidth": 2, "clip": true},
          "encoding": {
            "x": {
              "field": "date", "type": "temporal", "title": null,
              "scale": {"type": "utc", "domain": [
                {"year": 2021, "month": 8, "date": 10, "hours": 4, "minutes": 19, "utc": true},
                {"year": 2022, "month": 5, "date": 5, "hours": 16, "minutes": 5, "utc": true}
              ]},
              "axis": {
                "grid": true, "domain": false, "ticks": false, "labelPadding": 5,
                "labelExpr": "utcFormat(datum.value, '%m') == '01' ? utcFormat(datum.value, '%Y') : utcFormat(datum.value, '%b')",
                "labelFontWeight": {"condition": {"test": "utcmonth(datum.value) == 0", "value": "bold"}, "value": "normal"},
                "values": [
                  {"year": 2021, "month": 9, "date": 1, "utc": true},
                  {"year": 2021, "month": 10, "date": 1, "utc": true},
                  {"year": 2021, "month": 11, "date": 1, "utc": true},
                  {"year": 2021, "month": 12, "date": 1, "utc": true},
                  {"year": 2022, "month": 1, "date": 1, "utc": true},
                  {"year": 2022, "month": 2, "date": 1, "utc": true},
                  {"year": 2022, "month": 3, "date": 1, "utc": true},
                  {"year": 2022, "month": 4, "date": 1, "utc": true},
                  {"year": 2022, "month": 5, "date": 1, "utc": true}
                ]
              }
            },
            "y": {
              "field": "rsi", "type": "quantitative", "title": null,
              "scale": {"domain": [15.93, 80.03], "nice": false, "zero": false},
              "axis": {"orient": "right", "grid": true, "labels": false, "values": [20, 30, 40, 50, 60, 70]}
            }
          }
        },
        {
          "data": {"name": "rsiTicks"},
          "mark": {"type": "text", "color": "#131722"},
          "encoding": {
            "x": {"datum": {"year": 2022, "month": 5, "date": 7, "hours": 16, "minutes": 48, "utc": true}},
            "y": {"field": "v", "type": "quantitative", "title": null, "axis": null},
            "text": {"field": "v", "type": "quantitative", "format": ".2f"}
          }
        },
        {
          "data": {"values": [{}]},
          "layer": [
            {
              "mark": {"type": "rule", "color": "#787b86", "strokeWidth": 1, "strokeDash": [4, 4]},
              "encoding": {"y": {"datum": 70}}
            },
            {
              "mark": {"type": "rule", "color": "#787b86", "strokeWidth": 1, "strokeDash": [4, 4]},
              "encoding": {"y": {"datum": 50}}
            },
            {
              "mark": {"type": "rule", "color": "#787b86", "strokeWidth": 1, "strokeDash": [4, 4]},
              "encoding": {"y": {"datum": 30}}
            },
            {
              "mark": {"type": "rect", "color": "#7e57c2", "cornerRadius": 2},
              "encoding": {
                "x": {"datum": {"year": 2022, "month": 4, "date": 29, "hours": 21, "minutes": 36, "utc": true}},
                "x2": {"datum": {"year": 2022, "month": 5, "date": 5, "hours": 11, "utc": true}},
                "y": {"datum": 55.67}, "y2": {"datum": 50.87}
              }
            },
            {
              "mark": {"type": "rect", "color": "#7e57c2", "cornerRadius": 2},
              "encoding": {
                "x": {"datum": {"year": 2022, "month": 5, "date": 5, "hours": 21, "utc": true}},
                "x2": {"datum": {"year": 2022, "month": 5, "date": 13, "hours": 21, "minutes": 36, "utc": true}},
                "y": {"datum": 55.67}, "y2": {"datum": 50.87}
              }
            },
            {
              "mark": {"type": "text", "align": "center", "color": "white"},
              "encoding": {
                "x": {"datum": {"year": 2022, "month": 5, "date": 2, "hours": 16, "minutes": 48, "utc": true}},
                "y": {"datum": 53.3},
                "text": {"value": "RSI"}
              }
            },
            {
              "mark": {"type": "text", "color": "white"},
              "encoding": {
                "x": {"datum": {"year": 2022, "month": 5, "date": 7, "hours": 16, "minutes": 48, "utc": true}},
                "y": {"datum": 53.3},
                "text": {"value": "53.38"}
              }
            },
            {
              "mark": {"type": "text", "color": "#131722", "fontSize": 11.5},
              "encoding": {
                "x": {"datum": {"year": 2021, "month": 8, "date": 11, "hours": 21, "minutes": 12, "utc": true}},
                "y": {"datum": 75.2},
                "text": {"value": "RSI (14, close)"}
              }
            },
            {
              "mark": {"type": "text", "color": "#7e57c2", "fontSize": 11.5},
              "encoding": {
                "x": {"datum": {"year": 2021, "month": 8, "date": 29, "hours": 6, "minutes": 43, "utc": true}},
                "y": {"datum": 75.2},
                "text": {"value": "53.38"}
              }
            },
            {"mark": {"type": "point", "size": 676, "color": "#e6c889"}, "encoding": {"x": {"datum": {"year": 2021, "month": 8, "date": 26, "utc": true}}, "y": {"datum": 51.19}}},
            {"mark": {"type": "point", "size": 676, "color": "#e6c889"}, "encoding": {"x": {"datum": {"year": 2021, "month": 8, "date": 23, "hours": 7, "minutes": 55, "utc": true}}, "y": {"datum": 47.02}}},
            {"mark": {"type": "point", "size": 676, "color": "#f6da93"}, "encoding": {"x": {"datum": {"year": 2021, "month": 8, "date": 28, "hours": 16, "minutes": 5, "utc": true}}, "y": {"datum": 47.02}}},
            {"mark": {"type": "point", "size": 676, "color": "#f6da93"}, "encoding": {"x": {"datum": {"year": 2021, "month": 8, "date": 26, "utc": true}}, "y": {"datum": 42.85}}},
            {"mark": {"type": "point", "size": 676, "color": "#e6c889"}, "encoding": {"x": {"datum": {"year": 2021, "month": 8, "date": 31, "hours": 12, "minutes": 58, "utc": true}}, "y": {"datum": 42.21}}},
            {"mark": {"type": "point", "size": 676, "color": "#e6c889"}, "encoding": {"x": {"datum": {"year": 2021, "month": 8, "date": 28, "hours": 20, "minutes": 53, "utc": true}}, "y": {"datum": 38.04}}},
            {"mark": {"type": "point", "size": 676, "color": "#f6da93"}, "encoding": {"x": {"datum": {"year": 2021, "month": 9, "date": 3, "hours": 5, "minutes": 2, "utc": true}}, "y": {"datum": 38.04}}},
            {"mark": {"type": "point", "size": 676, "color": "#f6da93"}, "encoding": {"x": {"datum": {"year": 2021, "month": 8, "date": 31, "hours": 12, "minutes": 58, "utc": true}}, "y": {"datum": 33.88}}},
            {"mark": {"type": "point", "size": 676, "color": "#e6c889"}, "encoding": {"x": {"datum": {"year": 2021, "month": 9, "date": 6, "hours": 2, "minutes": 10, "utc": true}}, "y": {"datum": 33.88}}},
            {"mark": {"type": "point", "size": 676, "color": "#e6c889"}, "encoding": {"x": {"datum": {"year": 2021, "month": 9, "date": 3, "hours": 10, "minutes": 5, "utc": true}}, "y": {"datum": 29.71}}},
            {"mark": {"type": "point", "size": 676, "color": "#f6da93"}, "encoding": {"x": {"datum": {"year": 2021, "month": 9, "date": 8, "hours": 18, "minutes": 14, "utc": true}}, "y": {"datum": 29.71}}},
            {"mark": {"type": "point", "size": 676, "color": "#f6da93"}, "encoding": {"x": {"datum": {"year": 2021, "month": 9, "date": 6, "hours": 2, "minutes": 10, "utc": true}}, "y": {"datum": 25.54}}},
            {"mark": {"type": "point", "size": 676, "color": "#e6c889"}, "encoding": {"x": {"datum": {"year": 2021, "month": 8, "date": 31, "hours": 12, "minutes": 58, "utc": true}}, "y": {"datum": 25.54}}},
            {"mark": {"type": "point", "size": 676, "color": "#e6c889"}, "encoding": {"x": {"datum": {"year": 2021, "month": 8, "date": 28, "hours": 20, "minutes": 53, "utc": true}}, "y": {"datum": 21.38}}},
            {"mark": {"type": "point", "size": 676, "color": "#f6da93"}, "encoding": {"x": {"datum": {"year": 2021, "month": 9, "date": 3, "hours": 5, "minutes": 2, "utc": true}}, "y": {"datum": 21.38}}},
            {"mark": {"type": "point", "size": 676, "color": "#f6da93"}, "encoding": {"x": {"datum": {"year": 2021, "month": 8, "date": 31, "hours": 12, "minutes": 58, "utc": true}}, "y": {"datum": 17.21}}},
            {"mark": {"type": "point", "size": 676, "color": "#e6c889"}, "encoding": {"x": {"datum": {"year": 2021, "month": 8, "date": 26, "utc": true}}, "y": {"datum": 17.21}}},
            {"mark": {"type": "point", "size": 676, "color": "#e6c889"}, "encoding": {"x": {"datum": {"year": 2021, "month": 8, "date": 23, "hours": 7, "minutes": 55, "utc": true}}, "y": {"datum": 13.04}}},
            {"mark": {"type": "point", "size": 676, "color": "#f6da93"}, "encoding": {"x": {"datum": {"year": 2021, "month": 8, "date": 28, "hours": 16, "minutes": 5, "utc": true}}, "y": {"datum": 13.04}}},
            {"mark": {"type": "point", "size": 676, "color": "#f6da93"}, "encoding": {"x": {"datum": {"year": 2021, "month": 8, "date": 26, "utc": true}}, "y": {"datum": 8.88}}},
            {"mark": {"type": "point", "size": 484, "color": "#f3d590"}, "encoding": {"x": {"datum": {"year": 2021, "month": 8, "date": 24, "hours": 13, "minutes": 26, "utc": true}}, "y": {"datum": 32.92}}},
            {"mark": {"type": "point", "size": 484, "color": "#c9c9c9"}, "encoding": {"x": {"datum": {"year": 2021, "month": 8, "date": 22, "hours": 7, "minutes": 12, "utc": true}}, "y": {"datum": 29.39}}},
            {"mark": {"type": "point", "size": 484, "color": "#dcdcdc"}, "encoding": {"x": {"datum": {"year": 2021, "month": 8, "date": 26, "hours": 19, "minutes": 41, "utc": true}}, "y": {"datum": 29.39}}},
            {"mark": {"type": "point", "size": 484, "color": "#f1d48d"}, "encoding": {"x": {"datum": {"year": 2021, "month": 8, "date": 24, "hours": 13, "minutes": 26, "utc": true}}, "y": {"datum": 25.87}}},
            {
              "mark": {"type": "text", "color": "#131722", "fontSize": 15, "fontWeight": "bold", "font": "DejaVu Sans"},
              "encoding": {
                "x": {"datum": {"year": 2021, "month": 8, "date": 10, "hours": 14, "minutes": 10, "utc": true}},
                "y": {"datum": 1.83},
                "text": {"value": "17"}
              }
            },
            {
              "mark": {"type": "text", "color": "#131722", "fontSize": 13},
              "encoding": {
                "x": {"datum": {"year": 2021, "month": 8, "date": 14, "hours": 21, "minutes": 36, "utc": true}},
                "y": {"datum": 1.83},
                "text": {"value": "TradingView"}
              }
            }
          ]
        }
      ]
    }
  ]
}
